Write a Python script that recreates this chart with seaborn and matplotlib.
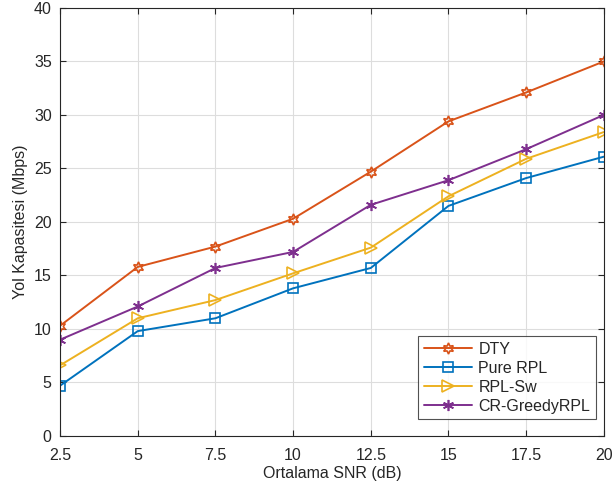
import pandas as pd
import numpy as np
import matplotlib
matplotlib.use("Agg")
import matplotlib.pyplot as plt
import seaborn as sns

snr = [2.5, 5, 7.5, 10, 12.5, 15, 17.5, 20]
dty = [10.3, 15.8, 17.7, 20.3, 24.7, 29.4, 32.1, 35.0]
pure_rpl = [4.7, 9.8, 11.0, 13.8, 15.7, 21.5, 24.1, 26.1]
rpl_sw = [6.6, 11.0, 12.7, 15.2, 17.6, 22.4, 25.9, 28.4]
cr_greedy = [9.0, 12.1, 15.7, 17.2, 21.6, 23.9, 26.8, 30.0]

names = ["DTY", "Pure RPL", "RPL-Sw", "CR-GreedyRPL"]
series = [dty, pure_rpl, rpl_sw, cr_greedy]
colors = ["#D95319", "#0072BD", "#EDB120", "#7E2F8E"]
markers = [(6, 1, 0), "s", ">", (6, 2, 0)]
msizes = [8, 6.5, 8, 8]

sns.set_style("ticks")
plt.rcParams["font.family"] = ["Liberation Sans", "DejaVu Sans"]

fig = plt.figure(figsize=(6.13, 4.96), dpi=100)
ax = fig.add_axes([0.098, 0.121, 0.887, 0.863])

for name, vals, c, m, ms in zip(names, series, colors, markers, msizes):
    df = pd.DataFrame({"snr": snr, "cap": vals})
    sns.lineplot(data=df, x="snr", y="cap", ax=ax, color=c, marker=m,
                 markersize=ms, markerfacecolor="none", markeredgecolor=c,
                 markeredgewidth=1.2, linewidth=1.4, label=name)

ax.set_xlim(2.5, 20)
ax.set_ylim(0, 40)
ax.set_xticks(snr)
ax.set_xticklabels(["2.5", "5", "7.5", "10", "12.5", "15", "17.5", "20"])
ax.set_yticks(range(0, 41, 5))
ax.grid(True, color="#dddddd", linewidth=0.8)
ax.tick_params(direction="in", labelsize=11.5, length=4, top=True, right=True,
               colors="#262626")
ax.tick_params(axis="x", pad=9)
ax.tick_params(axis="y", pad=6)
for s in ax.spines.values():
    s.set_color("#262626")
    s.set_linewidth(0.8)
ax.set_xlabel("Ortalama SNR (dB)", fontsize=11.5, color="#262626", labelpad=2)
ax.set_ylabel("Yol Kapasitesi (Mbps)", fontsize=11.5, color="#262626")
leg = ax.legend(loc="lower right", fontsize=11.5, frameon=True, fancybox=False,
                edgecolor="#262626", handlelength=3.0, borderpad=0.35,
                labelspacing=0.25, handletextpad=0.4,
                bbox_to_anchor=(1.0, 0.02))
leg.get_frame().set_linewidth(0.8)

fig.savefig("out.png", dpi=100)
